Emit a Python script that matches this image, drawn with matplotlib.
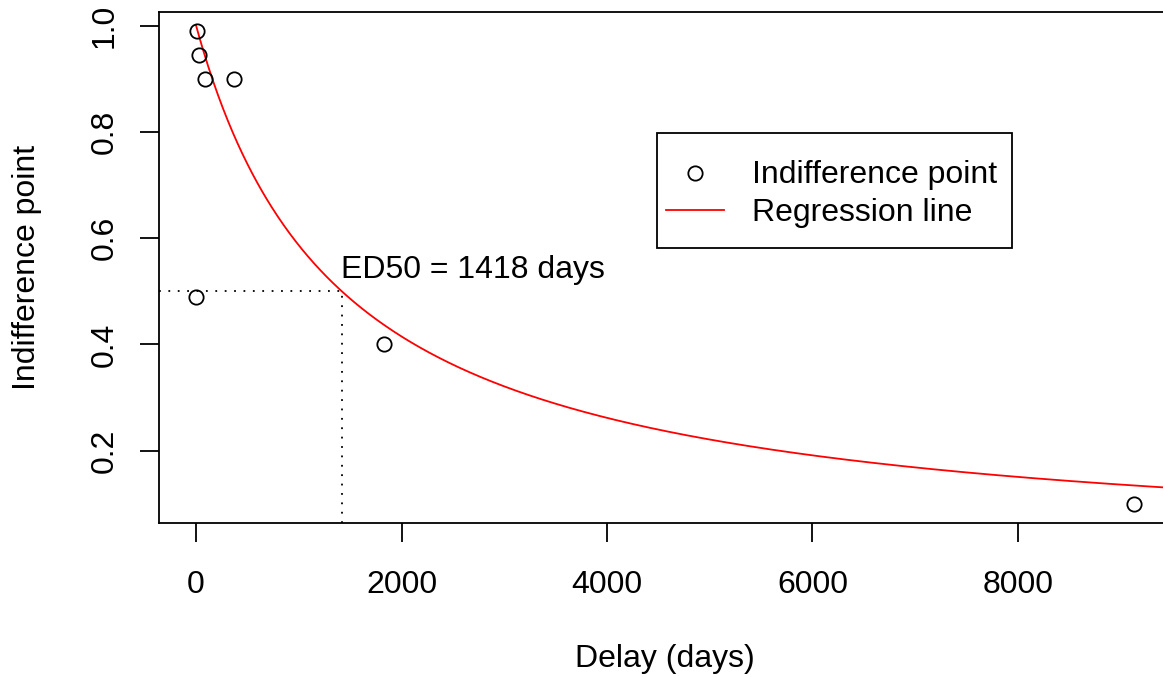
import numpy as np
import matplotlib
matplotlib.use("Agg")
import matplotlib.pyplot as plt
import matplotlib.transforms as mtransforms
from matplotlib.lines import Line2D
from matplotlib.patches import Rectangle

# ---- data ----
delay_days = [1, 7, 30, 90, 365, 1825, 9125]
indifference = [0.49, 0.99, 0.945, 0.90, 0.90, 0.40, 0.10]
ed50 = 1418
x_ticks = [0, 2000, 4000, 6000, 8000]
y_ticks = [0.2, 0.4, 0.6, 0.8, 1.0]
legend_labels = ["Indifference point", "Regression line"]
ed50_label = f"ED50 = {ed50} days"
x_title = "Delay (days)"
y_title = "Indifference point"

# ---- figure ----
W, H, DPI = 1163, 677, 100
plt.rcParams['font.family'] = ['Liberation Sans', 'DejaVu Sans']
FS = 23
LW = 1.3
MS = 10.3

fig = plt.figure(figsize=(W / DPI, H / DPI), dpi=DPI)
L, R, T, B = 158.7, 1171.0, 12.0, 522.7
ax = fig.add_axes([L / W, 1 - B / H, (R - L) / W, (B - T) / H])


def rlim(v):
    lo, hi = min(v), max(v)
    p = 0.04 * (hi - lo)
    return lo - p, hi + p


xlo, xhi = rlim(delay_days)
ylo, yhi = rlim(indifference)
ax.set_xlim(xlo, xhi)
ax.set_ylim(ylo, yhi)

# regression line (hyperbolic model, k = 1/ED50)
k = 1.0 / ed50
xs = np.linspace(0, xhi, 800)
ax.plot(xs, 1.0 / (1.0 + k * xs), color='red', lw=LW, zorder=2)

# points
ax.plot(delay_days, indifference, linestyle='none', marker='o', ms=MS,
        mfc='none', mec='black', mew=LW, zorder=3)

# ED50 guide lines
v50 = 1.0 / (1.0 + k * ed50)
dot = (0, (1, 4.2))
ax.plot([xlo, ed50], [v50, v50], color='black', lw=LW, linestyle=dot, zorder=1)
ax.plot([ed50, ed50], [ylo, v50], color='black', lw=LW, linestyle=dot, zorder=1)
ax.annotate(ed50_label, xy=(ed50, v50), xytext=(-0.9, 9.6),
            textcoords='offset points', ha='left', va='baseline', fontsize=FS)

# axes styling
for s in ax.spines.values():
    s.set_linewidth(LW)
ax.set_xticks(x_ticks)
ax.set_xticklabels([str(v) for v in x_ticks])
ax.set_yticks(y_ticks)
ax.set_yticklabels([f"{v:.1f}" for v in y_ticks], rotation=90, va='center')
ax.tick_params(axis='both', direction='out', length=14, width=LW,
               labelsize=FS, color='black')
ax.tick_params(axis='x', pad=20.0)
ax.tick_params(axis='y', pad=13.9)

ax.set_xlabel(x_title, fontsize=FS)
ax.xaxis.set_label_coords(0.5, (B - 644.0) / (B - T))
ax.set_ylabel(y_title, fontsize=FS)
ax.yaxis.set_label_coords((41.7 - L) / (R - L), 0.5)

# legend box (R-style), placed in figure pixel coordinates
px = mtransforms.Affine2D().scale(1.0 / W, -1.0 / H).translate(0, 1) + fig.transFigure
fig.add_artist(Rectangle((657.3, 133.3), 355.0, 114.4, transform=px,
                         fill=False, ec='black', lw=LW))
fig.add_artist(Line2D([695.0], [173.3], transform=px, linestyle='none',
                      marker='o', ms=MS, mfc='none', mec='black', mew=LW))
fig.add_artist(Line2D([666.0, 724.3], [210.0, 210.0], transform=px,
                      color='red', lw=LW))
fig.text(752.3, 183.3, legend_labels[0], transform=px, ha='left',
         va='baseline', fontsize=FS)
fig.text(752.3, 220.7, legend_labels[1], transform=px, ha='left',
         va='baseline', fontsize=FS)

fig.savefig("out.png", dpi=DPI)
